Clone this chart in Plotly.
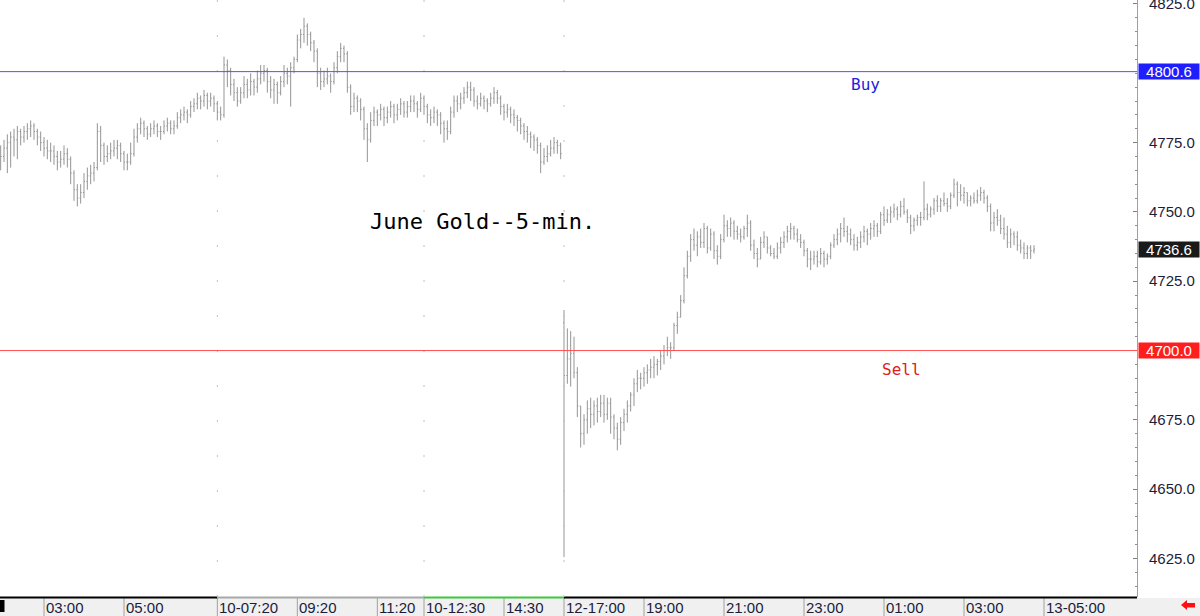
import numpy as np
import pandas as pd
import plotly.graph_objects as go

# ---------------- data ----------------
session_ranges = [("2026-04-10 01:55", "2026-04-10 15:55"),
                  ("2026-04-12 17:00", "2026-04-13 04:45")]

opens = [
    4768, 4770, 4773, 4775, 4777, 4776, 4779, 4777, 4779, 4780,
    4781, 4779, 4777, 4775, 4773, 4772, 4772, 4770, 4768, 4769,
    4771, 4769, 4764, 4758, 4755, 4757, 4761, 4763, 4764, 4766,
    4779, 4774, 4770, 4771, 4772, 4773, 4774, 4771, 4768, 4768,
    4771, 4777, 4780, 4782, 4780, 4778, 4780, 4781, 4779, 4779,
    4781, 4782, 4780, 4781, 4784, 4785, 4786, 4785, 4788, 4789,
    4791, 4790, 4792, 4790, 4791, 4789, 4786, 4785, 4803, 4801,
    4796, 4793, 4790, 4793, 4796, 4794, 4797, 4795, 4798, 4800,
    4801, 4797, 4794, 4796, 4793, 4797, 4800, 4799, 4802, 4805,
    4812, 4814, 4817, 4814, 4811, 4808, 4800, 4797, 4798, 4799,
    4797, 4802, 4806, 4809, 4807, 4795, 4788, 4791, 4790, 4787,
    4780, 4776, 4783, 4786, 4785, 4787, 4784, 4786, 4788, 4785,
    4787, 4789, 4786, 4788, 4790, 4789, 4787, 4791, 4788, 4785,
    4784, 4786, 4785, 4782, 4780, 4779, 4786, 4790, 4789, 4791,
    4793, 4795, 4794, 4790, 4789, 4791, 4790, 4789, 4791, 4793,
    4791, 4788, 4786, 4787, 4785, 4784, 4783, 4781, 4779, 4778,
    4777, 4776, 4774, 4768, 4770, 4771, 4773, 4775, 4774,
    4710, 4691, 4697, 4699, 4692, 4680, 4670, 4675, 4679, 4677,
    4680, 4678, 4681, 4677, 4681, 4676, 4672, 4668, 4674, 4677,
    4680, 4684, 4688, 4690, 4690, 4692, 4693, 4694, 4695, 4696,
    4698, 4700, 4701, 4701, 4709, 4712, 4718, 4727, 4734, 4740,
    4738, 4741, 4739, 4744, 4737, 4742, 4736, 4734, 4740, 4745,
    4744, 4746, 4743, 4742, 4741, 4744, 4746, 4738, 4735, 4733,
    4739, 4741, 4737, 4735, 4734, 4737, 4739, 4741, 4743, 4744,
    4742, 4740, 4739, 4736, 4733, 4733, 4734, 4732, 4735, 4733,
    4734, 4738, 4740, 4742, 4744, 4743, 4742, 4740, 4738, 4739,
    4741, 4743, 4742, 4744, 4745, 4743, 4749, 4747, 4749, 4750,
    4751, 4749, 4752, 4750, 4748, 4745, 4747, 4748, 4748, 4751,
    4749, 4751, 4754, 4752, 4754, 4753, 4752, 4756, 4760, 4757,
    4756, 4757, 4754, 4755, 4754, 4756, 4757, 4755, 4752, 4746,
    4748, 4747, 4744, 4742, 4739, 4742, 4741, 4738, 4737, 4735,
    4737, 4736,
]
highs = [
    4774, 4776, 4778, 4779, 4780, 4781, 4780, 4781, 4782, 4783,
    4782, 4780, 4779, 4777, 4776, 4775, 4774, 4772, 4772, 4774,
    4773, 4770, 4765, 4760, 4760, 4764, 4766, 4767, 4768, 4782,
    4781, 4775, 4774, 4775, 4776, 4776, 4775, 4772, 4771, 4775,
    4780, 4782, 4784, 4783, 4781, 4782, 4783, 4782, 4781, 4783,
    4784, 4783, 4783, 4786, 4787, 4788, 4787, 4790, 4791, 4793,
    4792, 4794, 4793, 4793, 4792, 4790, 4788, 4806, 4805, 4802,
    4798, 4795, 4795, 4799, 4798, 4800, 4798, 4801, 4803, 4803,
    4802, 4799, 4798, 4797, 4799, 4803, 4802, 4804, 4806, 4814,
    4816, 4820, 4818, 4815, 4812, 4809, 4802, 4801, 4802, 4800,
    4804, 4808, 4811, 4810, 4808, 4796, 4793, 4792, 4791, 4788,
    4782, 4786, 4788, 4787, 4789, 4788, 4788, 4790, 4789, 4789,
    4791, 4790, 4790, 4792, 4792, 4790, 4793, 4792, 4789, 4787,
    4788, 4787, 4786, 4783, 4783, 4788, 4792, 4792, 4793, 4795,
    4797, 4797, 4795, 4792, 4793, 4792, 4791, 4793, 4795, 4794,
    4792, 4789, 4789, 4788, 4787, 4785, 4784, 4782, 4781, 4779,
    4778, 4777, 4775, 4773, 4774, 4776, 4777, 4776, 4775,
    4714.6, 4708, 4707, 4705, 4694, 4680, 4677, 4682, 4683, 4682,
    4683, 4684, 4684, 4683, 4683, 4677, 4674, 4676, 4679, 4682,
    4685, 4690, 4693, 4692, 4694, 4695, 4697, 4698, 4697, 4700,
    4702, 4705, 4703, 4710, 4714, 4720, 4730, 4736, 4742, 4744,
    4743, 4744, 4746, 4745, 4744, 4743, 4738, 4742, 4749, 4747,
    4748, 4747, 4745, 4744, 4745, 4749, 4747, 4740, 4737, 4741,
    4743, 4741, 4738, 4737, 4739, 4741, 4743, 4745, 4746, 4745,
    4744, 4742, 4740, 4737, 4736, 4736, 4736, 4737, 4736, 4735,
    4739, 4742, 4744, 4746, 4748, 4745, 4744, 4742, 4741, 4743,
    4745, 4744, 4746, 4747, 4746, 4750, 4752, 4751, 4752, 4753,
    4752, 4754, 4755, 4751, 4749, 4748, 4749, 4750, 4761, 4753,
    4752, 4755, 4756, 4755, 4757, 4755, 4757, 4762, 4761, 4760,
    4759, 4757, 4756, 4757, 4758, 4759, 4758, 4756, 4753, 4750,
    4751, 4749, 4748, 4745, 4744, 4743, 4743, 4740, 4739, 4738,
    4738, 4738,
]
lows = [
    4765, 4768, 4764, 4766, 4770, 4769, 4774, 4775, 4776, 4777,
    4776, 4774, 4772, 4770, 4769, 4768, 4767, 4765, 4766, 4767,
    4766, 4760, 4754, 4752, 4753, 4755, 4758, 4760, 4761, 4765,
    4768, 4767, 4768, 4769, 4770, 4769, 4768, 4765, 4765, 4767,
    4770, 4775, 4778, 4777, 4776, 4777, 4778, 4777, 4776, 4778,
    4779, 4778, 4778, 4780, 4782, 4783, 4782, 4784, 4786, 4787,
    4787, 4788, 4787, 4788, 4786, 4783, 4783, 4784, 4795, 4792,
    4790, 4788, 4789, 4791, 4791, 4792, 4792, 4793, 4796, 4797,
    4793, 4791, 4789, 4789, 4792, 4795, 4796, 4788, 4800, 4804,
    4809, 4811, 4810, 4808, 4804, 4795, 4794, 4795, 4796, 4793,
    4796, 4800, 4804, 4804, 4793, 4785, 4786, 4786, 4783, 4776,
    4768, 4775, 4781, 4781, 4783, 4781, 4782, 4784, 4782, 4783,
    4785, 4784, 4784, 4786, 4786, 4784, 4786, 4785, 4782, 4781,
    4782, 4781, 4778, 4775, 4776, 4778, 4784, 4786, 4787, 4789,
    4791, 4790, 4788, 4787, 4788, 4787, 4786, 4788, 4789, 4789,
    4785, 4783, 4784, 4782, 4781, 4779, 4778, 4776, 4775, 4773,
    4772, 4771, 4764, 4767, 4768, 4770, 4771, 4771, 4769,
    4625.5, 4688, 4687, 4690, 4676, 4665, 4666, 4670, 4672, 4673,
    4674, 4676, 4674, 4675, 4670, 4668, 4664, 4666, 4671, 4674,
    4678, 4680, 4685, 4686, 4687, 4688, 4690, 4690, 4691, 4693,
    4695, 4698, 4697, 4700, 4706, 4712, 4717, 4726, 4732, 4736,
    4734, 4737, 4737, 4735, 4736, 4733, 4731, 4733, 4739, 4741,
    4741, 4740, 4740, 4739, 4740, 4741, 4736, 4733, 4730, 4733,
    4737, 4735, 4734, 4733, 4733, 4735, 4737, 4739, 4740, 4740,
    4739, 4737, 4734, 4730, 4729, 4731, 4730, 4731, 4730, 4731,
    4733, 4737, 4738, 4739, 4741, 4739, 4738, 4736, 4736, 4737,
    4739, 4738, 4740, 4741, 4741, 4742, 4745, 4746, 4746, 4748,
    4747, 4748, 4749, 4746, 4742, 4743, 4745, 4745, 4747, 4747,
    4748, 4749, 4750, 4750, 4752, 4750, 4751, 4755, 4752, 4754,
    4753, 4752, 4752, 4753, 4753, 4754, 4753, 4750, 4743, 4743,
    4745, 4742, 4740, 4737, 4737, 4738, 4736, 4735, 4733, 4733,
    4733, 4735,
]
closes = [
    4770, 4773, 4775, 4777, 4776, 4779, 4777, 4779, 4780, 4781,
    4779, 4777, 4775, 4773, 4772, 4772, 4770, 4768, 4769, 4771,
    4769, 4764, 4758, 4755, 4757, 4761, 4763, 4764, 4766, 4779,
    4774, 4770, 4771, 4772, 4773, 4774, 4771, 4768, 4768, 4771,
    4777, 4780, 4782, 4780, 4778, 4780, 4781, 4779, 4779, 4781,
    4782, 4780, 4781, 4784, 4785, 4786, 4785, 4788, 4789, 4791,
    4790, 4792, 4790, 4791, 4789, 4786, 4785, 4803, 4801, 4796,
    4793, 4790, 4793, 4796, 4794, 4797, 4795, 4798, 4800, 4801,
    4797, 4794, 4796, 4793, 4797, 4800, 4799, 4802, 4805, 4812,
    4814, 4817, 4814, 4811, 4808, 4800, 4797, 4798, 4799, 4797,
    4802, 4806, 4809, 4807, 4795, 4788, 4791, 4790, 4787, 4780,
    4776, 4783, 4786, 4785, 4787, 4784, 4786, 4788, 4785, 4787,
    4789, 4786, 4788, 4790, 4789, 4787, 4791, 4788, 4785, 4784,
    4786, 4785, 4782, 4780, 4779, 4786, 4790, 4789, 4791, 4793,
    4795, 4794, 4790, 4789, 4791, 4790, 4789, 4791, 4793, 4791,
    4788, 4786, 4787, 4785, 4784, 4783, 4781, 4779, 4778, 4777,
    4776, 4774, 4768, 4770, 4771, 4773, 4775, 4774, 4771,
    4691, 4697, 4699, 4692, 4680, 4670, 4675, 4679, 4677, 4680,
    4678, 4681, 4677, 4681, 4676, 4672, 4668, 4674, 4677, 4680,
    4684, 4688, 4690, 4690, 4692, 4693, 4694, 4695, 4696, 4698,
    4700, 4701, 4701, 4709, 4712, 4718, 4727, 4734, 4740, 4738,
    4741, 4739, 4744, 4737, 4742, 4736, 4734, 4740, 4745, 4744,
    4746, 4743, 4742, 4741, 4744, 4746, 4738, 4735, 4733, 4739,
    4741, 4737, 4735, 4734, 4737, 4739, 4741, 4743, 4744, 4742,
    4740, 4739, 4736, 4733, 4733, 4734, 4732, 4735, 4733, 4734,
    4738, 4740, 4742, 4744, 4743, 4742, 4740, 4738, 4739, 4741,
    4743, 4742, 4744, 4745, 4743, 4749, 4747, 4749, 4750, 4751,
    4749, 4752, 4750, 4748, 4745, 4747, 4748, 4748, 4751, 4749,
    4751, 4754, 4752, 4754, 4753, 4752, 4756, 4760, 4757, 4756,
    4757, 4754, 4755, 4754, 4756, 4757, 4755, 4752, 4746, 4748,
    4747, 4744, 4742, 4739, 4742, 4741, 4738, 4737, 4735, 4737,
    4736, 4736.6,
]

tick_times = ["2026-04-10 03:00", "2026-04-10 05:00", "2026-04-10 07:20", "2026-04-10 09:20",
              "2026-04-10 11:20", "2026-04-10 12:30", "2026-04-10 14:30", "2026-04-12 17:00",
              "2026-04-12 19:00", "2026-04-12 21:00", "2026-04-12 23:00", "2026-04-13 01:00",
              "2026-04-13 03:00", "2026-04-13 05:00"]
tick_labels = ["03:00", "05:00", "10-07:20", "09:20", "11:20", "10-12:30", "14:30",
               "12-17:00", "19:00", "21:00", "23:00", "01:00", "03:00", "13-05:00"]
segment_starts = ["2026-04-10 07:20", "2026-04-10 12:30", "2026-04-12 17:00"]
segment_colors = ["#000000", "#a8a8a8", "#3cc83c", "#000000"]

y_ticks = [4625, 4650, 4675, 4725, 4750, 4775, 4825]
buy_level = 4800.6
sell_level = 4700.0
last_price = closes[-1]

# ---------------- helpers ----------------
times = pd.DatetimeIndex(np.concatenate(
    [pd.date_range(a, b, freq="5min").values for a, b in session_ranges]))
n = min(len(times), len(opens), len(highs), len(lows), len(closes))
x_idx = list(range(n))
step = pd.Timedelta("5min")


def idx_of(t):
    t = pd.Timestamp(t)
    if t in times:
        return int(times.get_loc(t))
    return (len(times) - 1) + (t - times[-1]) / step


X0, X1 = -0.2, 340.9
Y0, Y1 = 4611.1, 4826.44
PLOT_H = 597.0


def xp(i):
    return (i - X0) / (X1 - X0)


def ypx(px_below):  # pixels below plot bottom -> paper
    return -px_below / PLOT_H


label_font = dict(family="Liberation Sans, Arial, sans-serif", size=15, color="#1c1c3c")

fig = go.Figure()
fig.add_trace(go.Ohlc(
    x=x_idx, open=opens[:n], high=highs[:n], low=lows[:n], close=closes[:n],
    increasing=dict(line=dict(color="#959595", width=1)),
    decreasing=dict(line=dict(color="#959595", width=1)),
    tickwidth=0.3, hoverinfo="skip", showlegend=False,
))

shapes = []
annotations = []

# label strip background
shapes.append(dict(type="rect", xref="paper", yref="paper", x0=0, x1=1200 / 1137,
                   y0=ypx(19), y1=ypx(1), fillcolor="#f0f0f0", line=dict(width=0)))

tick_idx = [idx_of(t) for t in tick_times]
for i, lab in zip(tick_idx, tick_labels):
    shapes.append(dict(type="line", xref="paper", yref="paper", x0=xp(i), x1=xp(i),
                       y0=ypx(19), y1=ypx(1), line=dict(color="#a0a0a0", width=1)))
    annotations.append(dict(xref="paper", yref="paper", x=xp(i), y=ypx(10),
                            xanchor="left", yanchor="middle", xshift=0, text=lab,
                            showarrow=False, font=label_font))

# bottom axis line segments
seg_idx = [X0] + [idx_of(t) for t in segment_starts] + [X1]
for k, col in enumerate(segment_colors):
    shapes.append(dict(type="line", xref="paper", yref="paper",
                       x0=xp(seg_idx[k]), x1=xp(seg_idx[k + 1]), y0=ypx(0.5), y1=ypx(0.5),
                       line=dict(color=col, width=2)))

# faint dotted session separators
for t in segment_starts:
    i = idx_of(t)
    shapes.append(dict(type="line", xref="paper", yref="paper", x0=xp(i), x1=xp(i),
                       y0=0, y1=1, line=dict(color="#c0c0c0", width=1, dash="2px,33px")))

# small black marker bottom-left
shapes.append(dict(type="rect", xref="paper", yref="paper", x0=0, x1=4.5 / 1137,
                   y0=ypx(15), y1=ypx(3), fillcolor="#000000", line=dict(width=0)))


# red arrow bottom-right
def P(px, py):
    return f"{px / 1137:.5f},{(PLOT_H - py) / PLOT_H:.5f}"


arrow = ("M " + P(1181, 605) + " L " + P(1187, 600) + " L " + P(1187, 603) + " L " +
         P(1195, 603) + " L " + P(1195, 607.5) + " L " + P(1187, 607.5) + " L " +
         P(1187, 610) + " Z")
shapes.append(dict(type="path", xref="paper", yref="paper", path=arrow,
                   fillcolor="#ff1010", line=dict(width=0)))

# buy / sell levels
shapes.append(dict(type="line", xref="paper", yref="y", x0=0, x1=1, y0=buy_level, y1=buy_level,
                   line=dict(color="#5050ff", width=1)))
shapes.append(dict(type="line", xref="paper", yref="y", x0=0, x1=1, y0=sell_level, y1=sell_level,
                   line=dict(color="#ff5050", width=1)))

# value boxes on the price axis
for val, bg in [(buy_level, "#1e1eff"), (sell_level, "#ff1e1e"), (last_price, "#1a1a1a")]:
    annotations.append(dict(xref="paper", yref="y", x=1.0, y=val, xanchor="left",
                            yanchor="middle", xshift=1, text=f"{val:.1f}", showarrow=False,
                            bgcolor=bg, borderpad=0, width=60, height=15, align="center",
                            font=dict(family="Liberation Sans, Arial, sans-serif",
                                      size=15, color="#ffffff")))

mono = "DejaVu Sans Mono, monospace"
annotations.append(dict(xref="paper", yref="y", x=849 / 1137, y=4796.1, xanchor="left",
                        yanchor="middle", text="Buy", showarrow=False,
                        font=dict(family=mono, size=16, color="#2020e0")))
annotations.append(dict(xref="paper", yref="y", x=880 / 1137, y=4693.3, xanchor="left",
                        yanchor="middle", text="Sell", showarrow=False,
                        font=dict(family=mono, size=16, color="#e02020")))
annotations.append(dict(xref="paper", yref="y", x=368 / 1137, y=4746.4, xanchor="left",
                        yanchor="middle", text="June Gold--5-min.", showarrow=False,
                        font=dict(family=mono, size=22, color="#000000")))

fig.update_layout(
    width=1200, height=616, autosize=False,
    margin=dict(l=0, r=63, t=0, b=19, pad=0, autoexpand=False),
    paper_bgcolor="#ffffff", plot_bgcolor="#ffffff",
    showlegend=False, shapes=shapes, annotations=annotations,
    xaxis=dict(range=[X0, X1], showticklabels=False, showgrid=False, zeroline=False,
               showline=False, ticks="", rangeslider=dict(visible=False), fixedrange=True,
               automargin=False),
    yaxis=dict(range=[Y0, Y1], side="right", showgrid=False, zeroline=False,
               showline=True, linecolor="#a0a0a0", linewidth=1, automargin=False,
               tickmode="array", tickvals=y_ticks, ticktext=[f"{v:.1f}" for v in y_ticks],
               ticks="inside", ticklen=4, tickcolor="#808080", ticklabelstandoff=8,
               ticklabeloverflow="allow", tickfont=label_font,
               minor=dict(tickmode="linear", tick0=4610, dtick=5, ticks="inside",
                          ticklen=2, tickcolor="#909090", showgrid=False),
               fixedrange=True),
)

fig.write_html("out.html")
